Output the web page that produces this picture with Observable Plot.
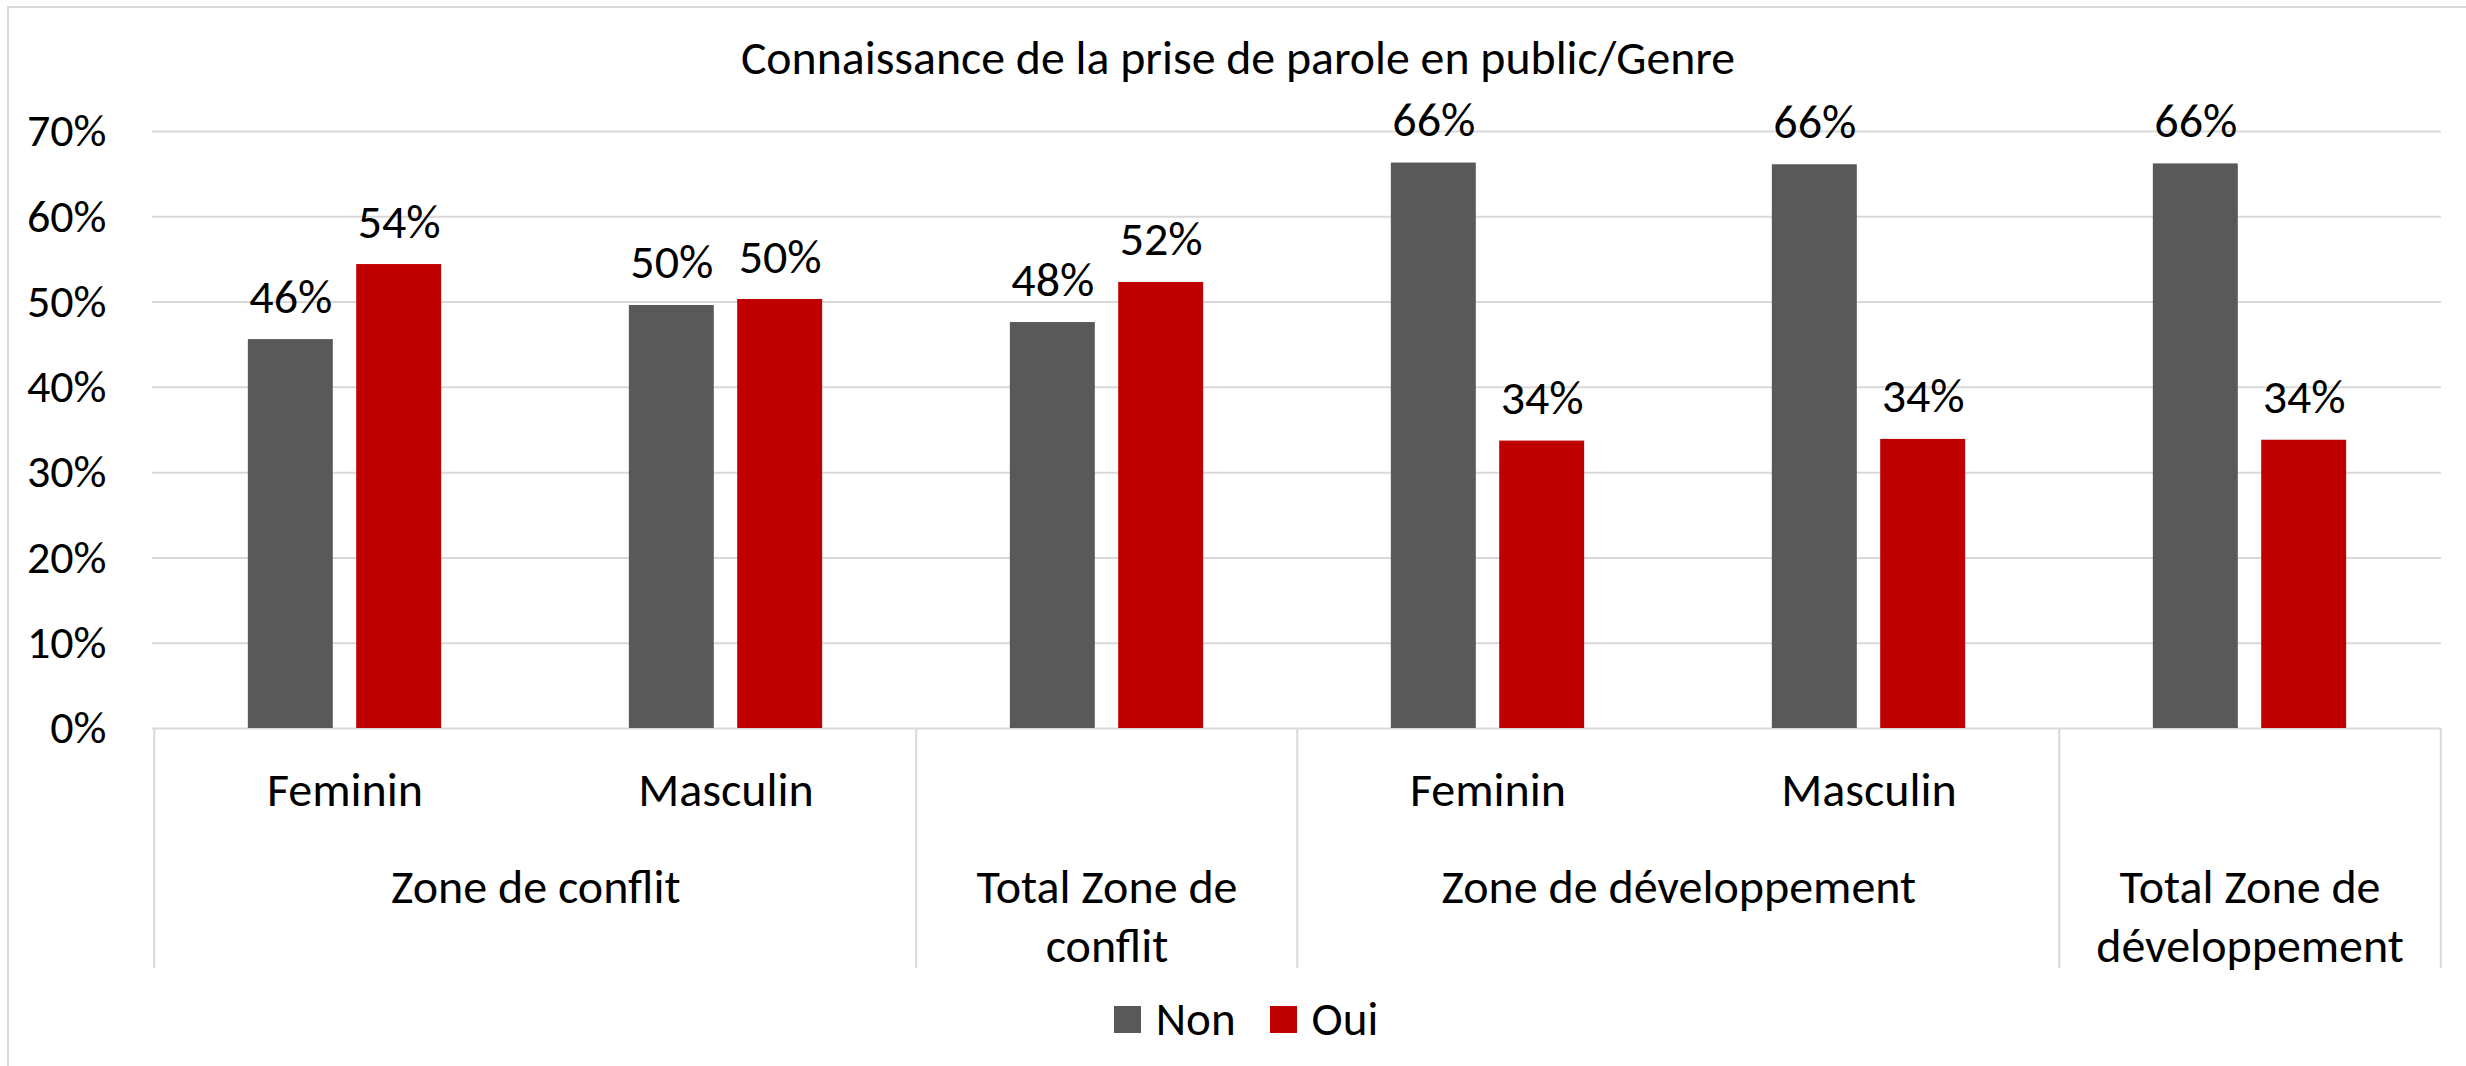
<!DOCTYPE html>
<html><head><meta charset="utf-8">
<script src="https://cdn.jsdelivr.net/npm/d3@7"></script>
<script src="https://cdn.jsdelivr.net/npm/@observablehq/plot@0.6"></script>
<style>
html,body{margin:0;padding:0;background:#fff;}
#chart{position:relative;width:2466px;height:1066px;overflow:hidden;font-family:Carlito,Lato,sans-serif;color:#000;background:#fff;}
#border{position:absolute;left:7px;top:6px;width:3000px;height:2000px;border:2px solid #d9d9d9;box-sizing:border-box;}
#title{position:absolute;left:0;width:2476px;top:0;height:115px;line-height:115px;text-align:center;font-size:47.8px;white-space:nowrap;}
#plot{position:absolute;left:0;top:90px;}
#legend{position:absolute;left:0;width:2492px;top:970px;height:98px;display:flex;justify-content:center;align-items:center;font-size:47px;}
#legend .item{display:flex;align-items:center;margin:0 17px;}
#legend .sw{width:27px;height:27px;margin-right:15px;}
</style>
</head><body>
<div id="chart">
  <div id="border"></div>
  <div id="title"></div>
  <div id="plot"></div>
  <div id="legend"></div>
</div>
<script>
// ---- data ----
const title = "Connaissance de la prise de parole en public/Genre";
const groups = ["Zone de conflit", "Zone de conflit", "Total Zone de conflit", "Zone de développement", "Zone de développement", "Total Zone de développement"];
const subcats = ["Feminin", "Masculin", "", "Feminin", "Masculin", ""];
const nonValues = [0.456, 0.496, 0.476, 0.663, 0.661, 0.662];
const ouiValues = [0.544, 0.503, 0.523, 0.337, 0.339, 0.338];
const seriesNames = ["Non", "Oui"];
const seriesColors = ["#595959", "#C00000"];
const yTicks = [0, 0.1, 0.2, 0.3, 0.4, 0.5, 0.6, 0.7];
const outerLabels = [
  {group: "Zone de conflit", text: "Zone de conflit"},
  {group: "Total Zone de conflit", text: "Total Zone de\nconflit"},
  {group: "Zone de développement", text: "Zone de développement"},
  {group: "Total Zone de développement", text: "Total Zone de\ndéveloppement"}
];

// ---- layout ----
const W = 2466, H = 900;
const mL = 152, mR = 25, mT = 41, mB = 262;
const FONT = "Carlito, Lato, sans-serif";
const LABEL_SIZE = 48;

const keys = groups.map((g, i) => g + "|" + subcats[i]);
const rows = keys.map((k, i) => ({key: k, group: groups[i], sub: subcats[i], non: nonValues[i], oui: ouiValues[i]}));
const bw = (W - mL - mR) / keys.length;

const groupInfo = outerLabels.map(o => {
  const idx = groups.map((g, i) => g === o.group ? i : -1).filter(i => i >= 0);
  return {...o, key: keys[idx[0]], span: idx.length};
});
const spanning = groupInfo.filter(d => d.span === 2);
const single = groupInfo.filter(d => d.span === 1);
const dividerKeys = groupInfo.map(d => d.key);
const lastKey = keys[keys.length - 1];

const pct = d3.format(".0%");
const barW = 0.224, gapHalf = 0.03;

const plot = Plot.plot({
  width: W, height: H,
  marginLeft: mL, marginRight: mR, marginTop: mT, marginBottom: mB,
  style: {fontFamily: FONT, fontSize: "46px", color: "#000", background: "transparent", overflow: "visible"},
  x: {domain: keys, padding: 0, axis: null},
  y: {domain: [0, 0.7], axis: null},
  marks: [
    Plot.ruleY(yTicks, {stroke: "#d9d9d9", strokeWidth: 2}),
    Plot.axisY(yTicks, {tickSize: 0, tickPadding: 46, tickFormat: pct, label: null, fill: "#000"}),
    Plot.barY(rows, {x: "key", y: "non", fill: seriesColors[0],
      insetLeft: (0.5 - gapHalf - barW) * bw, insetRight: (0.5 + gapHalf) * bw}),
    Plot.barY(rows, {x: "key", y: "oui", fill: seriesColors[1],
      insetLeft: (0.5 + gapHalf) * bw, insetRight: (0.5 - gapHalf - barW) * bw}),
    Plot.text(rows, {x: "key", y: "non", text: d => pct(d.non), dx: -(gapHalf + barW / 2) * bw, dy: -27, lineAnchor: "bottom", fill: "#000", fontSize: LABEL_SIZE}),
    Plot.text(rows, {x: "key", y: "oui", text: d => pct(d.oui), dx: (gapHalf + barW / 2) * bw, dy: -27, lineAnchor: "bottom", fill: "#000", fontSize: LABEL_SIZE}),
    // hierarchical category axis
    Plot.text(rows.filter(d => d.sub), {x: "key", y: 0, text: "sub", dy: 62, lineAnchor: "middle", fill: "#000", fontSize: LABEL_SIZE}),
    Plot.text(spanning, {x: "key", y: 0, text: "text", dx: bw / 2, dy: 132, lineAnchor: "top", lineHeight: 1.24, fill: "#000", fontSize: LABEL_SIZE}),
    Plot.text(single, {x: "key", y: 0, text: "text", dy: 132, lineAnchor: "top", lineHeight: 1.24, fill: "#000", fontSize: LABEL_SIZE}),
    Plot.ruleX(dividerKeys, {x: d => d, y1: 0, y2: 0, dx: -bw / 2, insetBottom: -240, stroke: "#d9d9d9", strokeWidth: 2}),
    Plot.ruleX([lastKey], {x: d => d, y1: 0, y2: 0, dx: bw / 2, insetBottom: -240, stroke: "#d9d9d9", strokeWidth: 2})
  ]
});
document.getElementById("plot").appendChild(plot);
document.getElementById("title").textContent = title;

const legend = document.getElementById("legend");
seriesNames.forEach((n, i) => {
  const item = document.createElement("div");
  item.className = "item";
  const sw = document.createElement("div");
  sw.className = "sw";
  sw.style.background = seriesColors[i];
  const t = document.createElement("span");
  t.textContent = n;
  item.appendChild(sw); item.appendChild(t);
  legend.appendChild(item);
});
</script>
</body></html>
